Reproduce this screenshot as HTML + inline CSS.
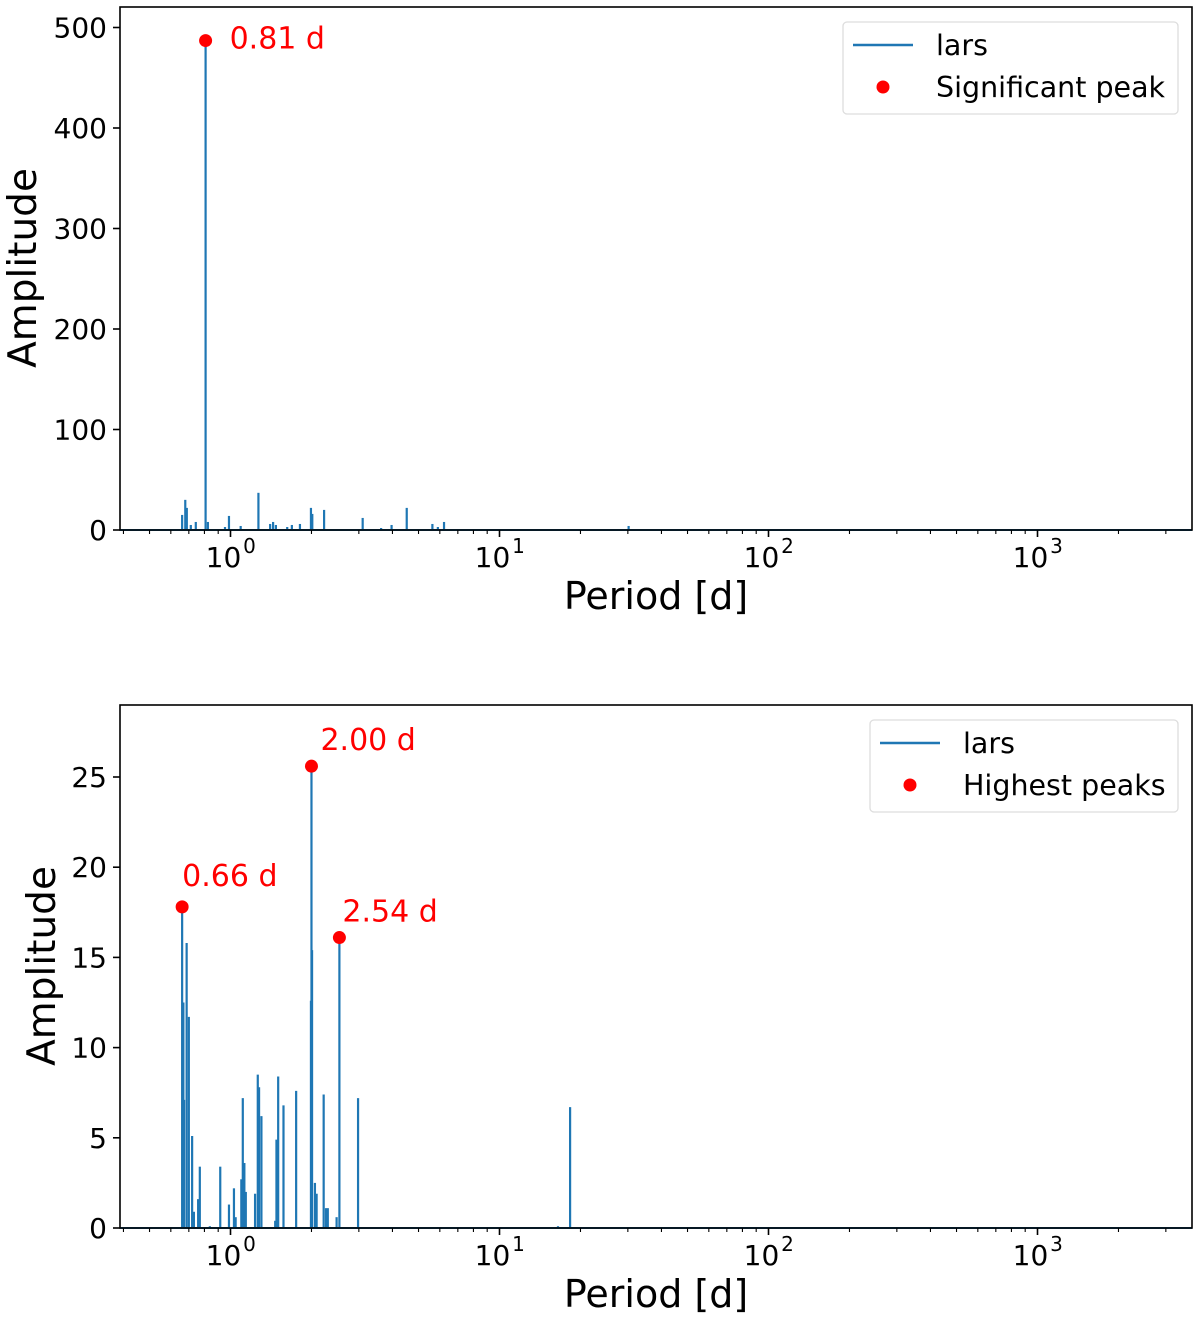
<!DOCTYPE html>
<html><head><meta charset="utf-8"><style>
html,body{margin:0;padding:0;background:#fff}
svg{display:block;font-family:"DejaVu Sans","Liberation Sans",sans-serif}
</style></head><body>
<svg id="fig" width="1200" height="1318" viewBox="0 0 1200 1318" xmlns="http://www.w3.org/2000/svg"></svg>
<script>
// ---- Top panel data ----
const topPeriods = [0.661,0.679,0.688,0.712,0.743,0.808,0.824,0.954,0.987,1.091,1.270,1.404,1.440,1.475,1.625,1.691,1.812,1.991,2.014,2.228,3.10,3.63,3.97,4.52,5.63,5.90,6.22,30.2];
const topAmps    = [15,30,22,5,8,487,8,3,14,4,37,6,8,5,3,5,6,22,16,20,12,2,5,22,6,3,8,4];
const topPeakPeriods = [0.808];
const topPeakAmps = [487];
const topPeakLabels = ["0.81 d"];
const topYTicks = [0,100,200,300,400,500];
// ---- Bottom panel data ----
const botPeriods = [0.661,0.668,0.672,0.687,0.700,0.720,0.731,0.758,0.769,0.838,0.916,0.987,1.030,1.045,1.097,1.111,1.126,1.140,1.234,1.263,1.277,1.303,1.466,1.482,1.504,1.574,1.754,1.991,2.010,2.00,2.06,2.09,2.22,2.265,2.30,2.48,2.54,2.98,16.5,18.3];
const botAmps    = [17.8,12.5,7.1,15.8,11.7,5.1,0.9,1.6,3.4,0.1,3.4,1.3,2.2,0.6,2.7,7.2,3.6,2.0,1.9,8.5,7.8,6.2,0.4,4.9,8.4,6.8,7.6,12.6,15.4,25.6,2.5,1.9,7.4,1.1,1.1,0.6,16.1,7.2,0.1,6.7];
const botPeakPeriods = [0.661,2.00,2.54];
const botPeakAmps = [17.8,25.6,16.1];
const botPeakLabels = ["0.66 d","2.00 d","2.54 d"];
const botYTicks = [0,5,10,15,20,25];
const xTickExps = [0,1,2,3];

const NS="http://www.w3.org/2000/svg";
const svg=document.getElementById('fig');
function mk(tag,attrs,parent){const e=document.createElementNS(NS,tag);for(const k in attrs)e.setAttribute(k,attrs[k]);(parent||svg).appendChild(e);return e;}

function panel(cfg){
  const L=120,R=1192,T=cfg.top,B=cfg.bottom;
  const x0=230.5, dec=269;
  const xs=p=>x0+dec*Math.log10(p);
  const ys=v=>cfg.y0px-v*cfg.pxPerUnit;
  const g=mk('g',{});
  
  
  const sg=mk('g',{},g);
  
  
  mk('line',{x1:L,x2:R,y1:ys(0),y2:ys(0),stroke:'#1f77b4','stroke-width':2},sg);
  cfg.periods.forEach((p,i)=>{
    const l=mk('line',{x1:xs(p),x2:xs(p),y1:ys(0),y2:ys(cfg.amps[i]),stroke:'#1f77b4','stroke-width':2.2},sg);
    
    
  });
  const fr=mk('rect',{x:L,y:T,width:R-L,height:B-T,fill:'none',stroke:'#000','stroke-width':1.6},g);
  
  
  cfg.yticks.forEach(v=>{
    const y=ys(v);
    mk('line',{x1:L-7,x2:L,y1:y,y2:y,stroke:'#000','stroke-width':1.6},g);
    const t=mk('text',{x:L-13,y:y+10,'text-anchor':'end','font-size':28,fill:'#000'},g);
    t.textContent=v;
    
    
  });
  for(let e=-1;e<=3;e++){
    for(let m=1;m<10;m++){
      const p=m*Math.pow(10,e); const x=xs(p);
      if(x<L||x>R)continue;
      mk('line',{x1:x,x2:x,y1:B,y2:B+(m===1?7:4),stroke:'#000','stroke-width':m===1?1.6:1.1},g);
    }
  }
  xTickExps.forEach(e=>{
    const x=xs(Math.pow(10,e));
    const t=mk('text',{x:x-7,y:B+37,'text-anchor':'middle','font-size':28,fill:'#000'},g);
    t.textContent='10';
    
    
    const s=mk('text',{x:x+19,y:B+23,'text-anchor':'middle','font-size':20,fill:'#000'},g);
    s.textContent=String(e);
  });
  const xl=mk('text',{x:656,y:B+79,'text-anchor':'middle','font-size':38,fill:'#000'},g);
  xl.textContent='Period [d]';
  
  
  const yl=mk('text',{x:0,y:0,'text-anchor':'middle','font-size':39,fill:'#000',transform:`translate(${cfg.ylx},${cfg.yly}) rotate(-90)`},g);
  yl.textContent='Amplitude';
  
  
  cfg.pp.forEach((p,i)=>{
    const c=mk('circle',{cx:xs(p),cy:ys(cfg.pa[i]),r:6.5,fill:'#ff0000'},g);
    
    
    const t=mk('text',{x:xs(p)+cfg.lo[i][0],y:ys(cfg.pa[i])+cfg.lo[i][1],'font-size':30,fill:'#ff0000'},g);
    t.textContent=cfg.pl[i];
    
    
  });
  const lg=mk('g',{},g);
  
  
  const lx=cfg.legX, ly=cfg.legY;
  mk('rect',{x:lx,y:ly,width:1178-lx,height:92,rx:4,fill:'#fff',stroke:'#ddd','stroke-width':1.3},lg);
  mk('line',{x1:lx+10,x2:lx+70,y1:ly+23,y2:ly+23,stroke:'#1f77b4','stroke-width':2.5},lg);
  const t1=mk('text',{x:lx+93,y:ly+33,'font-size':28.5,fill:'#000'},lg);
  t1.textContent='lars';
  
  
  mk('circle',{cx:lx+40,cy:ly+65,r:6.5,fill:'#ff0000'},lg);
  const t2=mk('text',{x:lx+93,y:ly+75,'font-size':28.5,fill:'#000'},lg);
  t2.textContent=cfg.legText;
  
  
}

panel({name:'top-panel',top:7,bottom:530,y0px:530,pxPerUnit:502.5/500,periods:topPeriods,amps:topAmps,
  pp:topPeakPeriods,pa:topPeakAmps,pl:topPeakLabels,lo:[[24,8]],yticks:topYTicks,ylx:36,yly:268,
  legX:843,legY:22,legText:'Significant peak'});
panel({name:'bottom-panel',top:705,bottom:1228,y0px:1228,pxPerUnit:451/25,periods:botPeriods,amps:botAmps,
  pp:botPeakPeriods,pa:botPeakAmps,pl:botPeakLabels,lo:[[0,-21],[9,-16],[3,-16]],yticks:botYTicks,ylx:55,yly:966,
  legX:870,legY:720,legText:'Highest peaks'});
</script>
</body></html>
